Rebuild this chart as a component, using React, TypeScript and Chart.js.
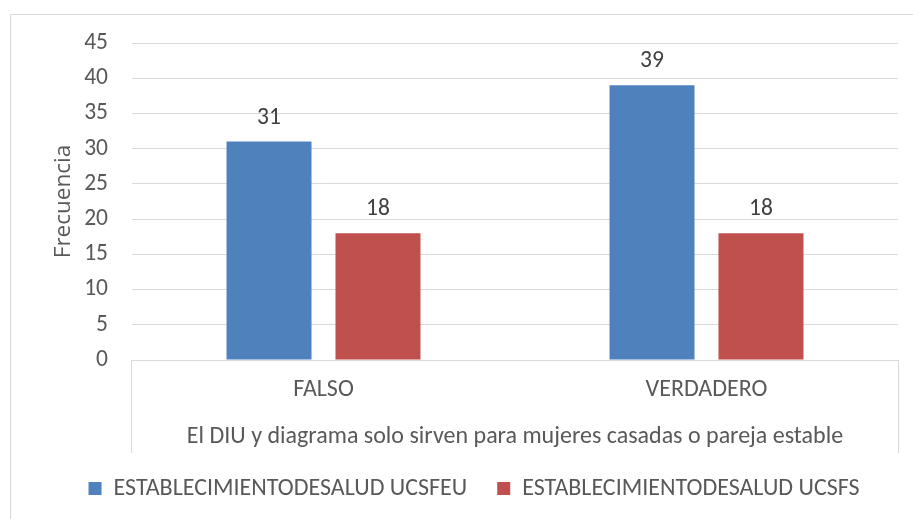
import React, { useEffect, useRef } from "react";
import { Chart, registerables } from "chart.js";

Chart.register(...registerables);

const categories = ["FALSO", "VERDADERO"];
const seriesNames = ["ESTABLECIMIENTODESALUD UCSFEU", "ESTABLECIMIENTODESALUD UCSFS"];
const ucsfeu = [31, 39];
const ucsfs = [18, 18];
const yTicks = [0, 5, 10, 15, 20, 25, 30, 35, 40, 45];
const xTitle = "El DIU y diagrama solo sirven para mujeres casadas o pareja estable";
const yTitle = "Frecuencia";

const FONT = "Carlito, Calibri, Lato, sans-serif";
const GRID = "#d9d9d9";
const TEXT = "#595959";

const framePlugin = {
  id: "frame",
  beforeDraw(chart: any) {
    const { ctx, chartArea } = chart;
    ctx.save();
    ctx.fillStyle = "#ffffff";
    ctx.fillRect(0, 0, chart.width, chart.height);
    ctx.strokeStyle = GRID;
    ctx.lineWidth = 1;
    ctx.strokeRect(10.5, 14.5, chart.width + 10, chart.height + 10);
    const bottom = chartArea.bottom + 93;
    ctx.beginPath();
    ctx.moveTo(Math.round(chartArea.left) - 0.5, chartArea.bottom);
    ctx.lineTo(Math.round(chartArea.left) - 0.5, bottom);
    ctx.moveTo(Math.round(chartArea.right) + 0.5, chartArea.bottom);
    ctx.lineTo(Math.round(chartArea.right) + 0.5, bottom);
    ctx.stroke();
    ctx.restore();
  },
};

const valueLabelPlugin = {
  id: "valueLabels",
  afterDatasetsDraw(chart: any) {
    const { ctx } = chart;
    ctx.save();
    ctx.font = `23.5px ${FONT}`;
    ctx.fillStyle = "#404040";
    ctx.textAlign = "center";
    ctx.textBaseline = "alphabetic";
    chart.data.datasets.forEach((ds: any, i: number) => {
      const meta = chart.getDatasetMeta(i);
      meta.data.forEach((el: any, j: number) => {
        ctx.fillText(String(ds.data[j]), el.x, el.y - 18);
      });
    });
    ctx.restore();
  },
};

export default function App() {
  const ref = useRef<HTMLCanvasElement>(null);
  useEffect(() => {
    document.body.style.margin = "0";
    const chart = new Chart(ref.current!, {
      type: "bar",
      data: {
        labels: categories,
        datasets: [
          {
            label: seriesNames[0],
            data: ucsfeu,
            backgroundColor: "#4f81bd",
            categoryPercentage: 0.569,
            barPercentage: 0.78,
          },
          {
            label: seriesNames[1],
            data: ucsfs,
            backgroundColor: "#c0504d",
            categoryPercentage: 0.569,
            barPercentage: 0.78,
          },
        ],
      },
      options: {
        responsive: false,
        animation: false,
        devicePixelRatio: 1,
        layout: { padding: { left: 50, right: 15, top: 43, bottom: 8.5 } },
        plugins: {
          legend: {
            position: "bottom",
            labels: {
              font: { family: FONT, size: 24 },
              color: TEXT,
              boxWidth: 13,
              boxHeight: 13,
              padding: 30,
            },
          },
          tooltip: { enabled: false },
        },
        scales: {
          x: {
            grid: { display: false, drawTicks: false },
            border: { display: true, color: GRID },
            ticks: { font: { family: FONT, size: 24 }, color: TEXT, padding: 16 },
            title: {
              display: true,
              text: xTitle,
              font: { family: FONT, size: 24 },
              color: TEXT,
              padding: { top: 0, bottom: -5 },
            },
            afterFit(scale: any) {
              scale.height = 86.5;
            },
          },
          y: {
            min: 0,
            max: 45,
            afterBuildTicks(scale: any) {
              scale.ticks = yTicks.map((v) => ({ value: v }));
            },
            grid: { color: GRID, drawTicks: false },
            border: { display: false },
            ticks: { font: { family: FONT, size: 23.5 }, color: TEXT, padding: 24 },
            title: {
              display: true,
              text: yTitle,
              font: { family: "'Open Sans', sans-serif", size: 22.5 },
              color: TEXT,
              padding: { top: 0, bottom: 0 },
            },
            afterFit(scale: any) {
              scale.width = 82;
            },
          },
        },
      },
      plugins: [framePlugin, valueLabelPlugin],
    });
    return () => chart.destroy();
  }, []);
  return <canvas ref={ref} width={913} height={519} style={{ display: "block" }} />;
}
